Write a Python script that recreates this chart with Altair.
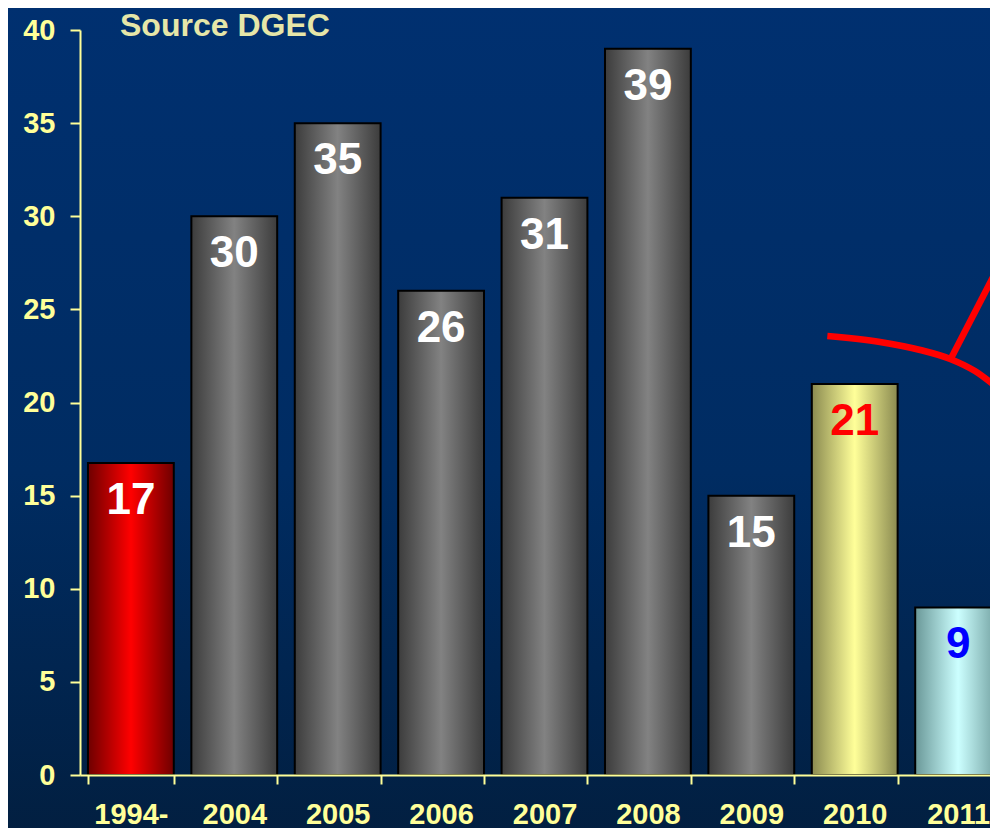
import altair as alt
import pandas as pd

categories = ["1994-", "2004", "2005", "2006", "2007", "2008", "2009", "2010", "2011"]
values = [16.75, 30, 35, 26, 31, 39, 15, 21, 9]
labels = ["17", "30", "35", "26", "31", "39", "15", "21", "9"]
kinds = ["ref", "year", "year", "year", "year", "year", "year", "current", "partial"]
y_ticks = [0, 5, 10, 15, 20, 25, 30, 35, 40]

# decorative red arc + spoke (in band units / value units)
arc_u = [7.24, 7.75, 8.14, 8.43, 8.67, 8.89]
arc_v = [23.57, 23.25, 22.82, 22.34, 21.69, 20.78]
spoke_u = [8.43, 8.89]
spoke_v = [22.28, 27.22]

df = pd.DataFrame({"cat": categories, "value": values, "label": labels, "kind": kinds})
deco = pd.DataFrame({
    "u": arc_u + spoke_u,
    "v": arc_v + spoke_v,
    "seg": ["arc"] * len(arc_u) + ["spoke"] * len(spoke_u),
    "i": list(range(len(arc_u))) + list(range(len(spoke_u))),
})

FONT = "Liberation Sans"
PALE = "#FFFF99"
RANGE = [0, 929]

def hgrad(edge, mid):
    return alt.Gradient(
        gradient="linear", x1=0, x2=1, y1=0, y2=0,
        stops=[alt.GradientStop(offset=0, color=edge),
               alt.GradientStop(offset=0.5, color=mid),
               alt.GradientStop(offset=1, color=edge)],
    )

xscale = alt.Scale(domain=categories, range=RANGE, paddingInner=0.17, paddingOuter=0.077)
yscale = alt.Scale(domain=[0, 40], nice=False)
X = alt.X("cat:N", scale=xscale, sort=categories, title=None,
          axis=alt.Axis(zindex=1, tickBand="extent", labelAngle=0, tickSize=9, labelPadding=16))
Y = alt.Y("value:Q", scale=yscale, title=None,
          axis=alt.Axis(values=y_ticks, zindex=1, tickSize=10, labelPadding=15))

base = alt.Chart(df)
fills = {
    "ref": hgrad("#6E0000", "#FF0000"),
    "year": hgrad("#3C3C3C", "#828282"),
    "current": hgrad("#8A8A50", "#FFFF99"),
    "partial": hgrad("#6A9898", "#CCFFFF"),
}
bar_layers = [
    base.transform_filter(alt.datum.kind == k)
    .mark_bar(fill=g, stroke="black", strokeWidth=2)
    .encode(x=X, y=Y)
    for k, g in fills.items()
]
text_layer = base.mark_text(font=FONT, fontSize=44, fontWeight="bold", baseline="middle", dy=38).encode(
    x=X, y=Y, text="label:N",
    color=alt.Color("kind:N", legend=None,
                    scale=alt.Scale(domain=["ref", "year", "current", "partial"],
                                    range=["#FFFFFF", "#FFFFFF", "#FF0000", "#0000FF"])),
)
inner = alt.layer(*bar_layers, text_layer)

bg_grad = alt.Gradient(
    gradient="linear", x1=0, x2=0, y1=0, y2=1,
    stops=[alt.GradientStop(offset=0, color="#003070"),
           alt.GradientStop(offset=0.55, color="#002C62"),
           alt.GradientStop(offset=1, color="#021E3E")],
)
bg = alt.Chart(pd.DataFrame({"bg": [0]})).mark_rect(fill=bg_grad).encode(
    x=alt.value(-80), x2=alt.value(930), y=alt.value(-30), y2=alt.value(830)
)

deco_layer = alt.Chart(deco).mark_line(color="#FF0000", strokeWidth=6.5, interpolate="monotone").encode(
    x=alt.X("u:Q", scale=alt.Scale(domain=[0, 9], range=RANGE), axis=None),
    y=alt.Y("v:Q", scale=yscale, title=None, axis=alt.Axis(values=y_ticks, zindex=1, tickSize=10, labelPadding=15)),
    detail="seg:N",
    order="i:Q",
)

chart = alt.layer(bg, inner, deco_layer).resolve_scale(x="independent").properties(
    width=910, height=745,
    autosize=alt.AutoSizeParams(type="none"),
    padding={"left": 72, "top": 22, "right": 0, "bottom": 53},
    background="#01265A",
    title=alt.TitleParams("Source DGEC", anchor="start", frame="group", dx=40, dy=43, offset=0,
                          font=FONT, fontSize=32, fontWeight="bold", color="#E6E6A8"),
).configure_axis(
    labelFont=FONT, labelFontSize=29, labelFontWeight="bold", labelColor=PALE,
    domainColor=PALE, domainWidth=2, tickColor=PALE, tickWidth=2, grid=False,
).configure_view(stroke=None)

chart.save("out.html", embed_options={"renderer": "svg", "actions": False})
